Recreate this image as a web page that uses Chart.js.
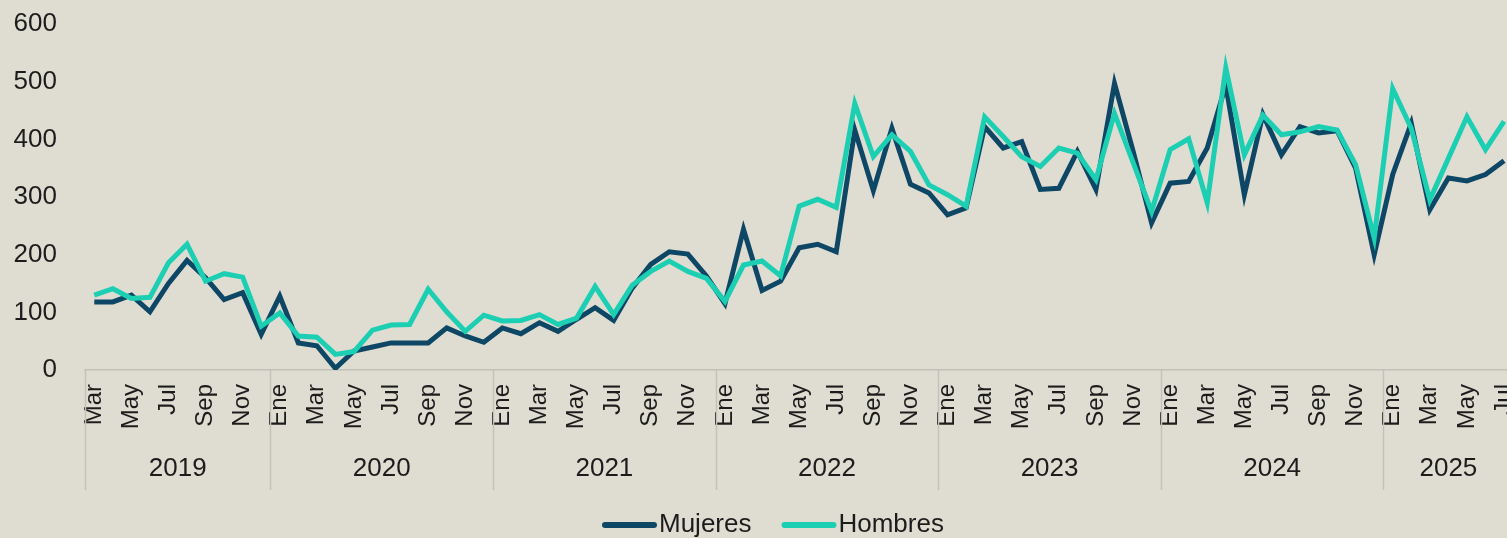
<!DOCTYPE html>
<html>
<head>
<meta charset="utf-8">
<script src="https://cdn.jsdelivr.net/npm/chart.js@4.4.1/dist/chart.umd.min.js"></script>
<style>
  html, body { margin: 0; padding: 0; background: #dfddd2; overflow: hidden; }
  #wrap { width: 1507px; height: 538px; overflow: hidden; }
</style>
</head>
<body>
<div id="wrap"><canvas id="chart" width="1547" height="538"></canvas></div>
<script>
// ===== Data =====
const MONTHS = ['Ene', 'Feb', 'Mar', 'Abr', 'May', 'Jun', 'Jul', 'Ago', 'Sep', 'Oct', 'Nov', 'Dic'];
const YEARS = ['2019', '2020', '2021', '2022', '2023', '2024', '2025'];
const YEAR_COUNTS = [10, 12, 12, 12, 12, 12, 7]; // Mar 2019 .. Jul 2025

const mujeres = [
  118, 118, 130, 101, 150, 190, 160, 122, 134, 62,
  128, 47, 42, 3, 33, 40, 47, 47, 47, 73, 59, 48,
  73, 63, 82, 67, 88, 108, 86, 142, 183, 205, 201, 163,
  115, 244, 138, 154, 212, 218, 205, 416, 311, 419, 322, 307,
  269, 281, 422, 385, 396, 313, 315, 379, 313, 497, 380, 255,
  324, 327, 385, 494, 304, 443, 373, 422, 411, 415, 350, 200,
  339, 428, 278, 333, 328, 339, 363
];
const hombres = [
  130, 141, 124, 126, 186, 218, 154, 167, 161, 76,
  99, 59, 57, 27, 32, 69, 78, 79, 140, 101, 67, 95,
  85, 86, 96, 79, 90, 145, 96, 147, 171, 189, 171, 159,
  119, 182, 189, 163, 284, 296, 282, 462, 370, 408, 379, 321,
  304, 284, 439, 405, 370, 353, 385, 376, 330, 445, 360, 275,
  382, 401, 290, 524, 373, 442, 408, 413, 422, 416, 356, 229,
  488, 419, 295, 367, 439, 382, 431
];

// month labels built from the year table (first year starts in March)
const labels = [];
YEARS.forEach((y, k) => {
  const start = k === 0 ? 2 : 0;
  for (let m = start; m < start + YEAR_COUNTS[k]; m++) labels.push(MONTHS[m]);
});

const TEXT = '#1c1c1c';
const RULE = '#c4c2b8';
const FONT = "'Liberation Sans', Arial, sans-serif";

// year row under the month labels + hand drawn legend
const yearRow = {
  id: 'yearRow',
  afterDraw(chart) {
    const x = chart.scales.x;
    const ctx = chart.ctx;
    const band = x.getPixelForValue(1) - x.getPixelForValue(0);
    const top = x.top;
    ctx.save();
    ctx.strokeStyle = RULE;
    ctx.lineWidth = 1.5;
    ctx.fillStyle = TEXT;
    ctx.font = `26px ${FONT}`;
    ctx.textAlign = 'center';
    ctx.textBaseline = 'middle';
    let idx = 0;
    YEARS.forEach((y, k) => {
      const left = x.getPixelForValue(idx) - band / 2;
      const right = x.getPixelForValue(idx + YEAR_COUNTS[k] - 1) + band / 2;
      ctx.beginPath();
      ctx.moveTo(Math.round(left) + 0.5, top);
      ctx.lineTo(Math.round(left) + 0.5, top + 120);
      ctx.stroke();
      ctx.fillText(y, (left + right) / 2, top + 99);
      idx += YEAR_COUNTS[k];
    });

    // legend
    const ly = 525;
    let lx = 602;
    ctx.textAlign = 'left';
    ctx.font = `26px ${FONT}`;
    chart.data.datasets.forEach(ds => {
      ctx.strokeStyle = ds.borderColor;
      ctx.lineWidth = 6;
      ctx.lineCap = 'round';
      ctx.beginPath();
      ctx.moveTo(lx + 3, ly);
      ctx.lineTo(lx + 52, ly);
      ctx.stroke();
      ctx.fillStyle = TEXT;
      ctx.fillText(ds.label, lx + 57, ly);
      lx += 57 + ctx.measureText(ds.label).width + 30;
    });
    ctx.restore();
  }
};

new Chart(document.getElementById('chart'), {
  type: 'line',
  data: {
    labels,
    datasets: [
      { label: 'Mujeres', data: mujeres, borderColor: '#0e4766', backgroundColor: '#0e4766', borderWidth: 5, pointRadius: 0, tension: 0, order: 1 },
      { label: 'Hombres', data: hombres, borderColor: '#1ccfb3', backgroundColor: '#1ccfb3', borderWidth: 5, pointRadius: 0, tension: 0, order: 0 },
    ],
  },
  options: {
    responsive: false,
    animation: false,
    layout: { padding: { top: 0, right: 27, left: 0, bottom: 40 } },
    plugins: {
      legend: { display: false },
      tooltip: { enabled: false },
    },
    scales: {
      x: {
        offset: true,
        grid: { display: false, drawTicks: false },
        border: { display: true, color: RULE, width: 1.5 },
        ticks: {
          color: TEXT,
          font: { family: FONT, size: 24 },
          autoSkip: false,
          minRotation: 90,
          maxRotation: 90,
          padding: 14,
          callback: (v, i) => (i % 2 === 0 ? labels[i] : ''),
        },
        afterFit: (scale) => { scale.height = 128; },
      },
      y: {
        min: 0,
        max: 600,
        grid: { display: false },
        border: { display: false },
        ticks: { stepSize: 100, color: TEXT, font: { family: FONT, size: 26 }, padding: 20 },
        afterFit: (scale) => {
          scale.width = 85;
          scale.paddingTop = 24;
          scale.paddingBottom = 0;
        },
      },
    },
  },
  plugins: [yearRow],
});
</script>
</body>
</html>
